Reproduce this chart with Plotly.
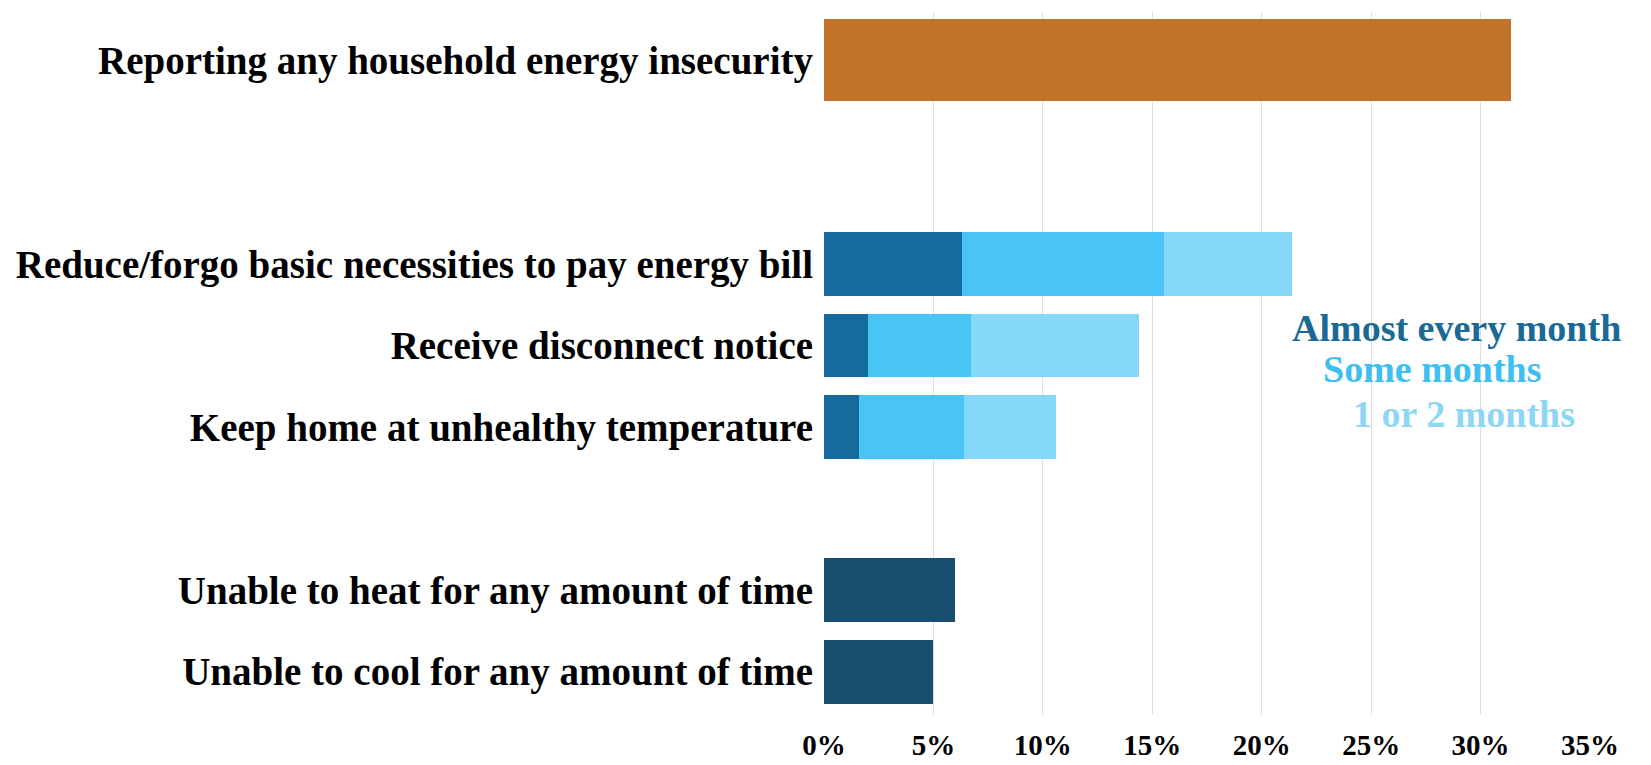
import plotly.graph_objects as go

# Survey items, shares of households (fraction of respondents)
overall_label = ["Reporting any household energy insecurity"]
overall_share = [0.314]

frequency_items = [
    "Reduce/forgo basic necessities to pay energy bill",
    "Receive disconnect notice",
    "Keep home at unhealthy temperature",
]
almost_every_month = [0.063, 0.020, 0.016]
some_months = [0.0925, 0.047, 0.048]
one_or_two_months = [0.0585, 0.077, 0.042]

outage_items = [
    "Unable to heat for any amount of time",
    "Unable to cool for any amount of time",
]
outage_share = [0.060, 0.050]

frequency_names = ["Almost every month", "Some months", "1 or 2 months"]

x_ticks = [0, 0.05, 0.10, 0.15, 0.20, 0.25, 0.30, 0.35]
x_tick_text = ["0%", "5%", "10%", "15%", "20%", "25%", "30%", "35%"]

# Row slots on the numeric y axis (gaps separate the three groups)
overall_rows = [7.5]
frequency_rows = [5, 4, 3]
outage_rows = [1, 0]

SERIF = "Liberation Serif"
ORANGE = "#c0742a"
DARK_BLUE = "#156b9b"
MID_BLUE = "#48c4f5"
LIGHT_BLUE = "#86d8fa"
NAVY = "#184e6e"
FREQ_COLORS = [DARK_BLUE, MID_BLUE, LIGHT_BLUE]
FREQ_TEXT_COLORS = ["#1b6a96", "#3dc0f0", "#8ed6f5"]

fig = go.Figure()

fig.add_trace(go.Bar(
    y=overall_rows, x=overall_share, orientation="h",
    width=[1.01] * len(overall_rows),
    marker=dict(color=ORANGE, line=dict(width=0)),
    name=overall_label[0], showlegend=False,
))

for name, values, color in zip(frequency_names,
                               [almost_every_month, some_months, one_or_two_months],
                               FREQ_COLORS):
    fig.add_trace(go.Bar(
        y=frequency_rows, x=values, orientation="h",
        width=[0.78] * len(frequency_rows),
        marker=dict(color=color, line=dict(width=0)),
        name=name, showlegend=False,
    ))

fig.add_trace(go.Bar(
    y=outage_rows, x=outage_share, orientation="h",
    width=[0.79] * len(outage_rows),
    marker=dict(color=NAVY, line=dict(width=0)),
    name="Outage", showlegend=False,
))

# Inline legend for the frequency breakdown
legend_pos = [(0.2131, 4.21), (0.2270, 3.71), (0.2408, 3.16)]
for name, color, (lx, ly) in zip(frequency_names, FREQ_TEXT_COLORS, legend_pos):
    fig.add_annotation(
        x=lx, y=ly, xref="x", yref="y", text=name, showarrow=False,
        xanchor="left", yanchor="middle",
        font=dict(family=SERIF, size=38, color=color, weight="bold"),
    )

all_rows = overall_rows + frequency_rows + outage_rows
all_labels = overall_label + frequency_items + outage_items

fig.update_layout(
    width=1651, height=765,
    margin=dict(l=824, r=61, t=12, b=50),
    barmode="stack",
    bargap=0,
    plot_bgcolor="white",
    paper_bgcolor="white",
    xaxis=dict(
        range=[0, 0.35],
        tickvals=x_ticks, ticktext=x_tick_text,
        showgrid=True, gridcolor="#dedede", gridwidth=1,
        zeroline=False, showline=False, ticks="",
        automargin=False,
        ticklabelstandoff=10,
        tickfont=dict(family=SERIF, size=29, color="black", weight="bold"),
    ),
    yaxis=dict(
        range=[-0.53, 8.09],
        tickvals=all_rows, ticktext=all_labels,
        showgrid=False, zeroline=False, showline=False, ticks="",
        automargin=False,
        ticklabelstandoff=10,
        tickfont=dict(family=SERIF, size=39, color="black", weight="bold"),
    ),
)

fig.write_html("out.html")
